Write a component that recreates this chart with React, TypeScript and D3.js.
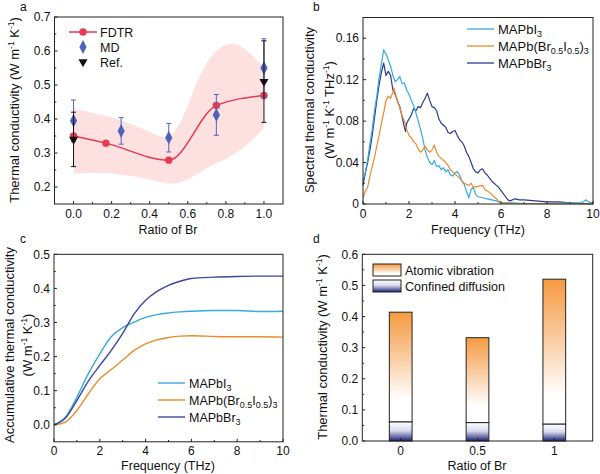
import React, { useEffect, useRef } from 'react';
import * as d3 from 'd3';

// ---- panel a: thermal conductivity vs Br ratio
const ratioFdtr = [0, 0.17, 0.5, 0.75, 1.0];
const kFdtr = [0.35, 0.329, 0.279, 0.44, 0.469];
const ratioMd = [0, 0.25, 0.5, 0.75, 1.0];
const kMd = [0.395, 0.365, 0.345, 0.412, 0.55];
const errMd = [0.061, 0.039, 0.042, 0.06, 0.086];
const ratioRef = [0, 1.0];
const kRef = [0.34, 0.51];
const errRef = [0.08, 0.12];
const bandRatio = [0, 0.1, 0.2, 0.3, 0.4, 0.45, 0.5, 0.55, 0.6, 0.65, 0.7, 0.75, 0.8, 0.85, 0.9, 0.95, 1.0];
const bandUpper = [0.43, 0.418, 0.405, 0.385, 0.362, 0.35, 0.348, 0.38, 0.44, 0.51, 0.565, 0.6, 0.618, 0.62, 0.605, 0.58, 0.55];
const bandLower = [0.24, 0.242, 0.24, 0.232, 0.222, 0.215, 0.21, 0.212, 0.222, 0.238, 0.255, 0.27, 0.283, 0.3, 0.32, 0.345, 0.375];

// ---- panel b: spectral thermal conductivity
const specI = [
  [0, 0.022], [0.1, 0.03], [0.2, 0.042], [0.3, 0.058], [0.4, 0.072], [0.5, 0.09], [0.6, 0.104], [0.7, 0.122],
  [0.8, 0.135], [0.9, 0.149], [0.95, 0.146], [1.0, 0.145], [1.1, 0.139], [1.2, 0.133], [1.3, 0.124], [1.4, 0.118],
  [1.5, 0.12], [1.6, 0.123], [1.7, 0.116], [1.8, 0.117], [1.9, 0.11], [2.0, 0.106], [2.1, 0.1], [2.2, 0.095],
  [2.3, 0.088], [2.4, 0.08], [2.5, 0.072], [2.6, 0.063], [2.7, 0.052], [2.8, 0.045], [2.9, 0.04], [3.0, 0.038],
  [3.1, 0.042], [3.2, 0.036], [3.3, 0.037], [3.4, 0.033], [3.5, 0.035], [3.6, 0.031], [3.7, 0.033], [3.8, 0.028],
  [3.9, 0.027], [4.0, 0.03], [4.1, 0.031], [4.2, 0.028], [4.3, 0.022], [4.4, 0.019], [4.5, 0.012], [4.6, 0.006],
  [4.7, 0.014], [4.8, 0.016], [4.9, 0.009], [5.0, 0.007], [5.2, 0.006], [5.4, 0.005], [5.6, 0.004], [5.8, 0.003],
  [6.0, 0.001], [6.5, 0.001], [7, 0.0005], [8, 0.0005], [9, 0.001], [9.5, 0.001], [9.7, 0.004], [9.8, 0.002], [10, 0.001],
];
const specMix = [
  [0, 0.006], [0.1, 0.012], [0.2, 0.016], [0.3, 0.027], [0.4, 0.036], [0.5, 0.045], [0.6, 0.056], [0.7, 0.066],
  [0.8, 0.078], [0.9, 0.088], [1.0, 0.1], [1.1, 0.104], [1.2, 0.102], [1.3, 0.108], [1.35, 0.112], [1.4, 0.107],
  [1.5, 0.1], [1.6, 0.093], [1.7, 0.085], [1.8, 0.08], [1.9, 0.072], [2.0, 0.066], [2.1, 0.064], [2.2, 0.06],
  [2.3, 0.058], [2.4, 0.053], [2.5, 0.05], [2.6, 0.052], [2.7, 0.056], [2.8, 0.052], [2.9, 0.05], [3.0, 0.052],
  [3.1, 0.057], [3.2, 0.05], [3.3, 0.046], [3.4, 0.044], [3.5, 0.042], [3.6, 0.04], [3.7, 0.037], [3.8, 0.033],
  [3.9, 0.031], [4.0, 0.029], [4.2, 0.025], [4.4, 0.02], [4.6, 0.018], [4.7, 0.02], [4.8, 0.016], [5.0, 0.017],
  [5.2, 0.018], [5.3, 0.014], [5.5, 0.011], [5.7, 0.007], [5.9, 0.003], [6.0, 0.001], [6.5, 0.0005], [10, 0],
];
const specBr = [
  [0, 0.018], [0.1, 0.03], [0.2, 0.04], [0.3, 0.052], [0.4, 0.066], [0.5, 0.083], [0.6, 0.1], [0.7, 0.115],
  [0.8, 0.127], [0.9, 0.136], [1.0, 0.124], [1.1, 0.128], [1.2, 0.124], [1.3, 0.11], [1.4, 0.106], [1.5, 0.099],
  [1.6, 0.094], [1.7, 0.084], [1.8, 0.074], [1.85, 0.07], [1.9, 0.078], [2.0, 0.082], [2.1, 0.086], [2.2, 0.092],
  [2.3, 0.09], [2.4, 0.094], [2.5, 0.093], [2.6, 0.098], [2.7, 0.102], [2.8, 0.107], [2.9, 0.1], [3.0, 0.094],
  [3.1, 0.093], [3.2, 0.09], [3.3, 0.082], [3.4, 0.078], [3.5, 0.076], [3.6, 0.074], [3.7, 0.069], [3.8, 0.068],
  [3.9, 0.07], [4.0, 0.071], [4.1, 0.066], [4.2, 0.062], [4.3, 0.06], [4.4, 0.056], [4.5, 0.05], [4.6, 0.046],
  [4.7, 0.04], [4.8, 0.034], [4.9, 0.031], [5.0, 0.03], [5.1, 0.033], [5.2, 0.034], [5.3, 0.03], [5.4, 0.028],
  [5.5, 0.025], [5.6, 0.022], [5.7, 0.02], [5.8, 0.018], [5.9, 0.016], [6.0, 0.013], [6.1, 0.01], [6.2, 0.007],
  [6.3, 0.004], [6.4, 0.003], [6.6, 0.005], [6.8, 0.004], [7.0, 0.004], [7.5, 0.003], [8.0, 0.002], [8.5, 0.002],
  [9, 0.001], [9.5, 0.0005], [10, 0],
];

// ---- panel c: accumulative thermal conductivity
const freqAcc = [0, 0.5, 1, 1.5, 2, 2.5, 3, 3.5, 4, 4.5, 5, 5.5, 6, 7, 8, 9, 10];
const accI = [0, 0.022, 0.081, 0.15, 0.208, 0.258, 0.285, 0.301, 0.315, 0.323, 0.328, 0.331, 0.333, 0.335, 0.335, 0.332, 0.333];
const accMix = [0, 0.008, 0.042, 0.091, 0.135, 0.162, 0.19, 0.218, 0.237, 0.249, 0.256, 0.26, 0.261, 0.259, 0.258, 0.258, 0.257];
const accBr = [0, 0.02, 0.071, 0.128, 0.174, 0.218, 0.268, 0.325, 0.365, 0.391, 0.409, 0.421, 0.429, 0.433, 0.435, 0.436, 0.436];

// ---- panel d: contributions
const ratioCats = ['0', '0.5', '1'];
const kTotal = [0.414, 0.332, 0.52];
const kDiffusion = [0.061, 0.059, 0.054];

const FONT = '"Liberation Sans", Arial, Helvetica, sans-serif';
const cBlue = '#36a9e1';
const cOrange = '#e98c2b';
const cNavy = '#2c3a8e';

type Part = [string, string?];

// text with super/subscripts, shifts in px so they cancel out exactly
const rich = (sel: any, parts: Part[], base: number, small: number) => {
  const up = base * 0.4;
  const down = base * 0.3;
  let shift = 0;
  parts.forEach(([t, k]) => {
    const ts = sel.append('tspan').text(t);
    let target = 0;
    if (k === 'sup') target = -up;
    if (k === 'sub') target = down;
    if (target !== shift) ts.attr('dy', target - shift);
    if (k === 'sup' || k === 'sub') ts.attr('font-size', small);
    shift = target;
  });
};

const axes = (g: any, x: any, y: any, xt: number[], xm: number[], yt: number[], ym: number[], fx: any, fy: any, xlabDy = 13.5) => {
  const [x0, x1] = x.range();
  const [y0, y1] = y.range();
  g.append('rect')
    .attr('x', x0).attr('y', y1).attr('width', x1 - x0).attr('height', y0 - y1)
    .attr('fill', 'none').attr('stroke', '#222').attr('stroke-width', 1);
  const tick = (ax: number, ay: number, bx: number, by: number) =>
    g.append('line').attr('x1', ax).attr('y1', ay).attr('x2', bx).attr('y2', by)
      .attr('stroke', '#222').attr('stroke-width', 1);
  xt.forEach(v => {
    tick(x(v), y0, x(v), y0 - 3);
    g.append('text').attr('x', x(v)).attr('y', y0 + xlabDy).attr('text-anchor', 'middle').text(fx(v));
  });
  xm.forEach(v => tick(x(v), y0, x(v), y0 - 1.8));
  yt.forEach(v => {
    tick(x0, y(v), x0 + 3, y(v));
    g.append('text').attr('x', x0 - 4).attr('y', y(v)).attr('dy', '0.35em').attr('text-anchor', 'end').text(fy(v));
  });
  ym.forEach(v => tick(x0, y(v), x0 + 1.8, y(v)));
};

const unitParts = (extra: boolean): Part[] => {
  const p: Part[] = [['(W m'], ['-1', 'sup'], [' K'], ['-1', 'sup']];
  if (extra) p.push([' THz'], ['-1', 'sup']);
  p.push([')']);
  return p;
};

const App = () => {
  const ref = useRef<SVGSVGElement>(null);

  useEffect(() => {
    document.body.style.margin = '0';
    const svg = d3.select(ref.current);
    svg.selectAll('*').remove();
    const root = svg.append('g').attr('font-family', FONT).attr('font-size', 12).attr('fill', '#111');
    const defs = svg.append('defs');

    // panel letters
    [['a', 20, 11], ['b', 313, 11], ['c', 20, 243], ['d', 313, 243]].forEach(([t, px, py]) =>
      root.append('text').attr('x', px).attr('y', py).attr('font-size', 12).text(t as string));

    // ================= panel a
    {
      const x = d3.scaleLinear().domain([-0.1, 1.1]).range([54.5, 283]);
      const y = d3.scaleLinear().domain([0.15, 0.7]).range([204, 17]);
      const g = root.append('g');

      const band = d3.area<number>()
        .x((d, i) => x(bandRatio[i]))
        .y0((d, i) => y(bandLower[i]))
        .y1((d, i) => y(bandUpper[i]))
        .curve(d3.curveCatmullRom);
      g.append('path').attr('d', band(bandRatio)).attr('fill', '#fde1e1');

      const line = d3.line<number>().x(d => x(d)).y((d, i) => y(kFdtr[i])).curve(d3.curveMonotoneX);
      g.append('path').attr('d', line(ratioFdtr)).attr('fill', 'none').attr('stroke', '#e53a50').attr('stroke-width', 1.5);
      ratioFdtr.forEach((r, i) =>
        g.append('circle').attr('cx', x(r)).attr('cy', y(kFdtr[i])).attr('r', 3.7).attr('fill', '#e53a50'));

      const errBar = (cx: number, lo: number, hi: number, col: string) => {
        g.append('line').attr('x1', cx).attr('x2', cx).attr('y1', y(lo)).attr('y2', y(hi)).attr('stroke', col).attr('stroke-width', 1);
        [lo, hi].forEach(v =>
          g.append('line').attr('x1', cx - 2.5).attr('x2', cx + 2.5).attr('y1', y(v)).attr('y2', y(v)).attr('stroke', col).attr('stroke-width', 1));
      };
      const diamond = d3.symbol().type(d3.symbolDiamond).size(50);
      const tri = d3.symbol().type(d3.symbolTriangle).size(36);

      ratioMd.forEach((r, i) => errBar(x(r), kMd[i] - errMd[i], kMd[i] + errMd[i], '#5266bb'));
      ratioMd.forEach((r, i) =>
        g.append('path').attr('d', diamond()).attr('transform', `translate(${x(r)},${y(kMd[i])}) scale(0.95,1.05)`).attr('fill', '#4f63b8'));
      ratioRef.forEach((r, i) => errBar(x(r), kRef[i] - errRef[i], kRef[i] + errRef[i], '#111'));
      ratioRef.forEach((r, i) =>
        g.append('path').attr('d', tri()).attr('transform', `translate(${x(r)},${y(kRef[i])}) rotate(180)`).attr('fill', '#111'));

      axes(g, x, y, [0, 0.2, 0.4, 0.6, 0.8, 1.0], [0.1, 0.3, 0.5, 0.7, 0.9],
        [0.2, 0.3, 0.4, 0.5, 0.6, 0.7], [0.25, 0.35, 0.45, 0.55, 0.65],
        d3.format('.1f'), d3.format('.1f'));

      // legend
      const lg = g.append('g').attr('font-size', 12.5);
      lg.append('line').attr('x1', 69).attr('x2', 97).attr('y1', 32).attr('y2', 32).attr('stroke', '#e53a50').attr('stroke-width', 1.5);
      lg.append('circle').attr('cx', 83).attr('cy', 32).attr('r', 3.7).attr('fill', '#e53a50');
      lg.append('text').attr('x', 100).attr('y', 36.5).text('FDTR');
      lg.append('path').attr('d', diamond()).attr('transform', 'translate(83,47) scale(0.95,1.05)').attr('fill', '#4f63b8');
      lg.append('text').attr('x', 100).attr('y', 51.5).text('MD');
      lg.append('path').attr('d', tri()).attr('transform', 'translate(83,62) rotate(180)').attr('fill', '#111');
      lg.append('text').attr('x', 100).attr('y', 66.5).text('Ref.');

      const yt = g.append('text').attr('font-size', 13).attr('text-anchor', 'middle')
        .attr('transform', `translate(19,110) rotate(-90)`);
      rich(yt, [['Thermal conductivity '], ...unitParts(false)], 13, 8.5);
      g.append('text').attr('x', 168).attr('y', 234).attr('font-size', 12.5).attr('text-anchor', 'middle').text('Ratio of Br');
    }

    // ================= panel b
    {
      const x = d3.scaleLinear().domain([0, 10]).range([363, 593]);
      const y = d3.scaleLinear().domain([0, 0.18]).range([204, 17.5]);
      const g = root.append('g');
      const line = d3.line<number[]>().x(d => x(d[0])).y(d => y(d[1]));
      [[specBr, cNavy], [specI, cBlue], [specMix, cOrange]].forEach(([data, col]) =>
        g.append('path').attr('d', line(data as number[][])).attr('fill', 'none').attr('stroke', col as string)
          .attr('stroke-width', 1.2).attr('stroke-linejoin', 'round'));

      axes(g, x, y, [0, 2, 4, 6, 8, 10], [1, 3, 5, 7, 9],
        [0, 0.04, 0.08, 0.12, 0.16], [0.02, 0.06, 0.1, 0.14],
        d3.format('d'), (v: number) => (v === 0 ? '0' : d3.format('.2f')(v)));

      const lg = g.append('g').attr('font-size', 13);
      const items: [string, Part[], number][] = [
        [cBlue, [['MAPbI'], ['3', 'sub']], 29],
        [cOrange, [['MAPb(Br'], ['0.5', 'sub'], ['I'], ['0.5', 'sub'], [')'], ['3', 'sub']], 46],
        [cNavy, [['MAPbBr'], ['3', 'sub']], 63],
      ];
      items.forEach(([col, parts, ly]) => {
        lg.append('line').attr('x1', 467).attr('x2', 494).attr('y1', ly).attr('y2', ly).attr('stroke', col).attr('stroke-width', 1.3);
        rich(lg.append('text').attr('x', 498).attr('y', ly + 4.5), parts, 13, 9);
      });

      const yt = g.append('text').attr('font-size', 13).attr('text-anchor', 'middle')
        .attr('transform', `translate(314,110) rotate(-90)`);
      yt.text('Spectral thermal conductivity');
      const yt2 = g.append('text').attr('font-size', 13).attr('text-anchor', 'middle')
        .attr('transform', `translate(334,110) rotate(-90)`);
      rich(yt2, unitParts(true), 13, 8.5);
      g.append('text').attr('x', 478).attr('y', 234).attr('font-size', 12.5).attr('text-anchor', 'middle').text('Frequency (THz)');
    }

    // ================= panel c
    {
      const x = d3.scaleLinear().domain([0, 10]).range([54, 283]);
      const y = d3.scaleLinear().domain([-0.05, 0.5]).range([441.8, 254.3]);
      const g = root.append('g');
      const mk = (vals: number[]) => d3.line<number>().x(d => x(d)).y((d, i) => y(vals[i])).curve(d3.curveMonotoneX)(freqAcc);
      [[accMix, cOrange], [accI, cBlue], [accBr, '#3a4799']].forEach(([vals, col]) =>
        g.append('path').attr('d', mk(vals as number[])).attr('fill', 'none').attr('stroke', col as string).attr('stroke-width', 1.4));

      axes(g, x, y, [0, 2, 4, 6, 8, 10], [1, 3, 5, 7, 9],
        [0, 0.1, 0.2, 0.3, 0.4, 0.5], [0.05, 0.15, 0.25, 0.35, 0.45],
        d3.format('d'), d3.format('.1f'));

      const lg = g.append('g').attr('font-size', 12.5);
      const items: [string, Part[], number][] = [
        [cBlue, [['MAPbI'], ['3', 'sub']], 383],
        [cOrange, [['MAPb(Br'], ['0.5', 'sub'], ['I'], ['0.5', 'sub'], [')'], ['3', 'sub']], 400],
        ['#3a4799', [['MAPbBr'], ['3', 'sub']], 417],
      ];
      items.forEach(([col, parts, ly]) => {
        lg.append('line').attr('x1', 158).attr('x2', 185).attr('y1', ly).attr('y2', ly).attr('stroke', col).attr('stroke-width', 1.4);
        rich(lg.append('text').attr('x', 189).attr('y', ly + 4.5), parts, 12.5, 9);
      });

      const yt = g.append('text').attr('font-size', 13).attr('text-anchor', 'middle')
        .attr('transform', `translate(14,345) rotate(-90)`);
      yt.text('Accumulative thermal conductivity');
      const yt2 = g.append('text').attr('font-size', 13).attr('text-anchor', 'middle')
        .attr('transform', `translate(32,345) rotate(-90)`);
      rich(yt2, unitParts(false), 13, 8.5);
      g.append('text').attr('x', 168).attr('y', 470).attr('font-size', 12.5).attr('text-anchor', 'middle').text('Frequency (THz)');
    }

    // ================= panel d
    {
      const x = d3.scaleBand().domain(ratioCats).range([362.3, 592.7]).paddingInner(0.704).paddingOuter(0.352);
      const y = d3.scaleLinear().domain([0, 0.6]).range([441, 254.3]);
      const g = root.append('g');

      const gOr = defs.append('linearGradient').attr('id', 'gradVib').attr('x1', 0).attr('y1', 0).attr('x2', 0).attr('y2', 1);
      gOr.append('stop').attr('offset', 0).attr('stop-color', '#f59a3f');
      gOr.append('stop').attr('offset', 0.35).attr('stop-color', '#f9c493');
      gOr.append('stop').attr('offset', 0.8).attr('stop-color', '#ffffff');
      const gNv = defs.append('linearGradient').attr('id', 'gradDif').attr('x1', 0).attr('y1', 0).attr('x2', 0).attr('y2', 1);
      gNv.append('stop').attr('offset', 0).attr('stop-color', '#ffffff');
      gNv.append('stop').attr('offset', 0.45).attr('stop-color', '#d9dbee');
      gNv.append('stop').attr('offset', 1).attr('stop-color', '#1b2273');

      ratioCats.forEach((c, i) => {
        const bx = x(c) as number;
        g.append('rect').attr('x', bx).attr('width', x.bandwidth())
          .attr('y', y(kTotal[i])).attr('height', y(kDiffusion[i]) - y(kTotal[i]))
          .attr('fill', 'url(#gradVib)').attr('stroke', '#222').attr('stroke-width', 1);
        g.append('rect').attr('x', bx).attr('width', x.bandwidth())
          .attr('y', y(kDiffusion[i])).attr('height', y(0) - y(kDiffusion[i]))
          .attr('fill', 'url(#gradDif)').attr('stroke', '#222').attr('stroke-width', 1);
      });

      const [x0, x1] = x.range();
      const [y0, y1] = y.range();
      g.append('rect').attr('x', x0).attr('y', y1).attr('width', x1 - x0).attr('height', y0 - y1)
        .attr('fill', 'none').attr('stroke', '#222').attr('stroke-width', 1);
      ratioCats.forEach(c => {
        const cx = (x(c) as number) + x.bandwidth() / 2;
        g.append('line').attr('x1', cx).attr('x2', cx).attr('y1', y0).attr('y2', y0 - 3).attr('stroke', '#222');
        g.append('text').attr('x', cx).attr('y', y0 + 13.5).attr('text-anchor', 'middle').text(c);
      });
      y.ticks(6).forEach(v => {
        g.append('line').attr('x1', x0).attr('x2', x0 + 3).attr('y1', y(v)).attr('y2', y(v)).attr('stroke', '#222');
        g.append('text').attr('x', x0 - 4).attr('y', y(v)).attr('dy', '0.35em').attr('text-anchor', 'end').text(d3.format('.1f')(v));
      });
      [0.05, 0.15, 0.25, 0.35, 0.45, 0.55].forEach(v =>
        g.append('line').attr('x1', x0).attr('x2', x0 + 1.8).attr('y1', y(v)).attr('y2', y(v)).attr('stroke', '#222'));

      const lg = g.append('g').attr('font-size', 12.5);
      lg.append('rect').attr('x', 373).attr('y', 264).attr('width', 28).attr('height', 12)
        .attr('fill', 'url(#gradVib)').attr('stroke', '#222');
      lg.append('text').attr('x', 405).attr('y', 274.5).text('Atomic vibration');
      lg.append('rect').attr('x', 373).attr('y', 280).attr('width', 28).attr('height', 12)
        .attr('fill', 'url(#gradDif)').attr('stroke', '#222');
      lg.append('text').attr('x', 405).attr('y', 290.5).text('Confined diffusion');

      const yt = g.append('text').attr('font-size', 13).attr('text-anchor', 'middle')
        .attr('transform', `translate(327,347) rotate(-90)`);
      rich(yt, [['Thermal conductivity '], ...unitParts(false)], 13, 8.5);
      g.append('text').attr('x', 477).attr('y', 470).attr('font-size', 12.5).attr('text-anchor', 'middle').text('Ratio of Br');
    }
  }, []);

  return <svg ref={ref} width={600} height={474} style={{ display: 'block', background: '#fff' }} />;
};

export default App;
